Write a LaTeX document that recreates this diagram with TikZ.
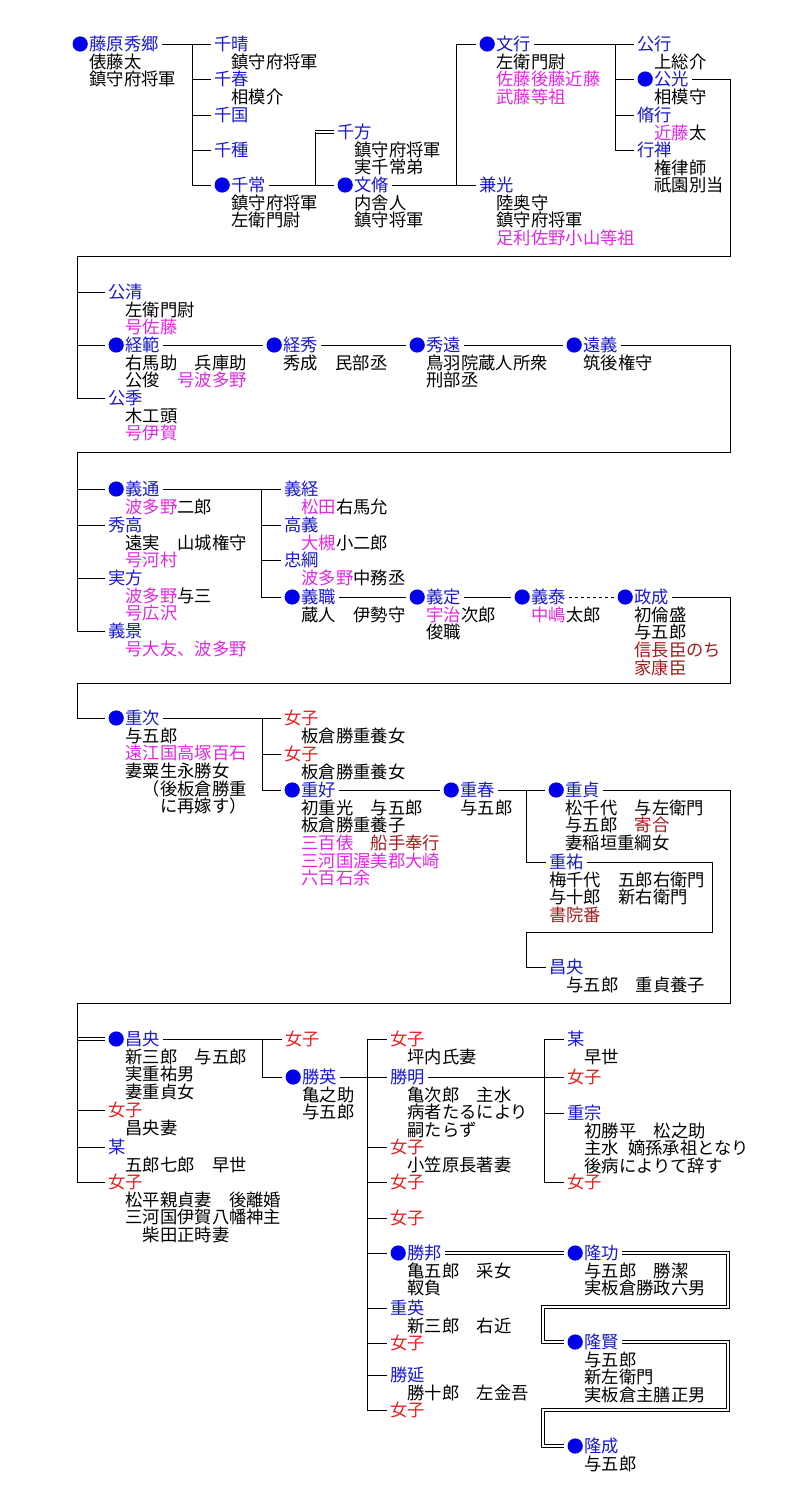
\documentclass[tikz,border=0pt]{standalone}
\usepackage{fontspec}
\setmainfont{Noto Sans CJK JP}
\usetikzlibrary{positioning}
\definecolor{nmblue}{RGB}{25,25,205}
\definecolor{dotblue}{RGB}{0,0,235}
\definecolor{mag}{RGB}{225,40,225}
\definecolor{fred}{RGB}{225,35,35}
\definecolor{dred}{RGB}{160,30,30}
\newcommand\mgt[1]{\textcolor{mag}{#1}}
\newcommand\drd[1]{\textcolor{dred}{#1}}
\gdef\Dfill{dotblue}

\tikzset{
  nm/.style={anchor=west, inner sep=3pt, text height=15pt, text depth=2pt, text=nmblue},
  fem/.style={nm, text=fred},
  ds/.style={inner sep=0pt, align=left, execute at begin node={\rule{0pt}{15pt}}},
  ln/.style={line width=0.8pt},
  dbl/.style={double, double distance=2.2pt, line width=0.8pt},
}

\begin{document}
\begin{tikzpicture}[x=1pt, y=-1pt, font=\fontsize{17.3}{17.7}\selectfont, node distance=-2.3pt and 20.3pt]
\fill[white] (0,0) rectangle (794,1500);

% Hidesato and the first generations
\node[nm] (hidesato) at (69,44) {　藤原秀郷};
\node[ds] (hidesato-d) [below right=of hidesato.south west] {俵藤太\\鎮守府将軍};
\node[nm] (chiharu) at (211,44) {千晴};
\node[ds] (chiharu-d) [below right=of chiharu.south west] {鎮守府将軍};
\node[nm] (chiharu2) at (211,79) {千春};
\node[ds] (chiharu2-d) [below right=of chiharu2.south west] {相模介};
\node[nm] (chikuni) at (211,115) {千国};
\node[nm] (chitane) at (211,150) {千種};
\node[nm] (chitsune) at (211,185) {　千常};
\node[ds] (chitsune-d) [below right=of chitsune.south west] {鎮守府将軍\\左衛門尉};
\node[nm] (chikata) at (334,132) {千方};
\node[ds] (chikata-d) [below right=of chikata.south west] {鎮守府将軍\\実千常弟};
\node[nm] (fumiyasu) at (334,185) {　文脩};
\node[ds] (fumiyasu-d) [below right=of fumiyasu.south west] {内舎人\\鎮守将軍};
\node[nm] (fumiyuki) at (476,44) {　文行};
\node[ds] (fumiyuki-d) [below right=of fumiyuki.south west] {左衛門尉\\\mgt{佐藤後藤近藤}\\\mgt{武藤等祖}};
\node[nm] (kanemitsu) at (476,185) {兼光};
\node[ds] (kanemitsu-d) [below right=of kanemitsu.south west] {陸奥守\\鎮守府将軍\\\mgt{足利佐野小山等祖}};
\node[nm] (kimiyuki) at (634,44) {公行};
\node[ds] (kimiyuki-d) [below right=of kimiyuki.south west] {上総介};
\node[nm] (kimimitsu) at (634,79) {　公光};
\node[ds] (kimimitsu-d) [below right=of kimimitsu.south west] {相模守};
\node[nm] (nobuyuki) at (634,115) {脩行};
\node[ds] (nobuyuki-d) [below right=of nobuyuki.south west] {\mgt{近藤}太};
\node[nm] (gyozen) at (634,150) {行禅};
\node[ds] (gyozen-d) [below right=of gyozen.south west] {権律師\\祇園別当};

% Kimimitsu's sons
\node[nm] (kimikiyo) at (105,292) {公清};
\node[ds] (kimikiyo-d) [below right=of kimikiyo.south west] {左衛門尉\\\mgt{号佐藤}};
\node[nm] (tsunenori) at (105,345) {　経範};
\node[ds] (tsunenori-d) [below right=of tsunenori.south west] {右馬助　兵庫助\\公俊　\mgt{号波多野}};
\node[nm] (kimisue) at (105,398) {公季};
\node[ds] (kimisue-d) [below right=of kimisue.south west] {木工頭\\\mgt{号伊賀}};
\node[nm] (tsunehide) at (263,345) {　経秀};
\node[ds] (tsunehide-d) [below right=of tsunehide.south west] {秀成　民部丞};
\node[nm] (hidetoo) at (406,345) {　秀遠};
\node[ds] (hidetoo-d) [below right=of hidetoo.south west] {鳥羽院蔵人所衆\\刑部丞};
\node[nm] (tooyoshi) at (563,345) {　遠義};
\node[ds] (tooyoshi-d) [below right=of tooyoshi.south west] {筑後権守};

% Hatano line
\node[nm] (yoshimichi) at (105,489) {　義通};
\node[ds] (yoshimichi-d) [below right=of yoshimichi.south west] {\mgt{波多野}二郎};
\node[nm] (hidetaka) at (105,525) {秀高};
\node[ds] (hidetaka-d) [below right=of hidetaka.south west] {遠実　山城権守\\\mgt{号河村}};
\node[nm] (sanekata) at (105,578) {実方};
\node[ds] (sanekata-d) [below right=of sanekata.south west] {\mgt{波多野}与三\\\mgt{号広沢}};
\node[nm] (yoshikage) at (105,631) {義景};
\node[ds] (yoshikage-d) [below right=of yoshikage.south west] {\mgt{号大友、波多野}};
\node[nm] (yoshitsune) at (281,489) {義経};
\node[ds] (yoshitsune-d) [below right=of yoshitsune.south west] {\mgt{松田}右馬允};
\node[nm] (takayoshi) at (281,525) {高義};
\node[ds] (takayoshi-d) [below right=of takayoshi.south west] {\mgt{大槻}小二郎};
\node[nm] (tadatsuna) at (281,560) {忠綱};
\node[ds] (tadatsuna-d) [below right=of tadatsuna.south west] {\mgt{波多野}中務丞};
\node[nm] (yoshimoto) at (281,597) {　義職};
\node[ds] (yoshimoto-d) [below right=of yoshimoto.south west] {蔵人　伊勢守};
\node[nm] (yoshisada) at (406,597) {　義定};
\node[ds] (yoshisada-d) [below right=of yoshisada.south west] {\mgt{宇治}次郎\\俊職};
\node[nm] (yoshiyasu) at (511,597) {　義泰};
\node[ds] (yoshiyasu-d) [below right=of yoshiyasu.south west] {\mgt{中嶋}太郎};
\node[nm] (masanari) at (614,597) {　政成};
\node[ds] (masanari-d) [below right=of masanari.south west] {初倫盛\\与五郎\\\drd{信長臣のち}\\\drd{家康臣}};

% Shigetsugu and his children
\node[nm] (shigetsugu) at (105,718) {　重次};
\node[ds] (shigetsugu-d) [below right=of shigetsugu.south west] {与五郎\\\mgt{遠江国高塚百石}\\妻粟生永勝女\\　（後板倉勝重\\　　に再嫁す）};
\node[fem] (nyoshi1) at (281,718) {女子};
\node[ds] (nyoshi1-d) [below right=of nyoshi1.south west] {板倉勝重養女};
\node[fem] (nyoshi2) at (281,754) {女子};
\node[ds] (nyoshi2-d) [below right=of nyoshi2.south west] {板倉勝重養女};
\node[nm] (shigeyoshi) at (281,790) {　重好};
\node[ds] (shigeyoshi-d) [below right=of shigeyoshi.south west] {初重光　与五郎\\板倉勝重養子\\\mgt{三百俵}　\drd{船手奉行}\\\mgt{三河国渥美郡大崎}\\\mgt{六百石余}};
\node[nm] (shigeharu) at (440,790) {　重春};
\node[ds] (shigeharu-d) [below right=of shigeharu.south west] {与五郎};
\node[nm] (shigesada) at (545,790) {　重貞};
\node[ds] (shigesada-d) [below right=of shigesada.south west] {松千代　与左衛門\\与五郎　\drd{寄合}\\妻稲垣重綱女};
\node[nm] (shigesuke) at (546,862) {重祐};
\node[ds] (shigesuke-d) [below right=-2.3pt and 3pt of shigesuke.south west] {梅千代　五郎右衛門\\与十郎　新右衛門\\\drd{書院番}};
\node[nm] (masanaka1) at (546,967) {昌央};
\node[ds] (masanaka1-d) [below right=of masanaka1.south west] {与五郎　重貞養子};

% Masanaka and later
\node[nm] (masanaka) at (105,1039) {　昌央};
\node[ds] (masanaka-d) [below right=of masanaka.south west] {新三郎　与五郎\\実重祐男\\妻重貞女};
\node[fem] (nyoshi3) at (105,1110) {女子};
\node[ds] (nyoshi3-d) [below right=of nyoshi3.south west] {昌央妻};
\node[nm] (bo1) at (105,1147) {某};
\node[ds] (bo1-d) [below right=of bo1.south west] {五郎七郎　早世};
\node[fem] (nyoshi4) at (105,1182) {女子};
\node[ds] (nyoshi4-d) [below right=of nyoshi4.south west] {松平親貞妻　後離婚\\三河国伊賀八幡神主\\　柴田正時妻};
\node[fem] (nyoshi5) at (282,1039) {女子};
\node[nm] (katsuhide) at (282,1077) {　勝英};
\node[ds] (katsuhide-d) [below right=of katsuhide.south west] {亀之助\\与五郎};
\node[fem] (nyoshi6) at (387,1039) {女子};
\node[ds] (nyoshi6-d) [below right=of nyoshi6.south west] {坪内氏妻};
\node[nm] (katsuaki) at (387,1077) {勝明};
\node[ds] (katsuaki-d) [below right=of katsuaki.south west] {亀次郎　主水\\病者たるにより\\嗣たらず};
\node[fem] (nyoshi7) at (387,1147) {女子};
\node[ds] (nyoshi7-d) [below right=of nyoshi7.south west] {小笠原長著妻};
\node[fem] (nyoshi8) at (387,1182) {女子};
\node[fem] (nyoshi9) at (387,1218) {女子};
\node[nm] (katsukuni) at (387,1253) {　勝邦};
\node[ds] (katsukuni-d) [below right=of katsukuni.south west] {亀五郎　采女\\靫負};
\node[nm] (shigehide) at (387,1308) {重英};
\node[ds] (shigehide-d) [below right=of shigehide.south west] {新三郎　右近};
\node[fem] (nyoshi10) at (387,1343) {女子};
\node[nm] (katsunobu) at (387,1375) {勝延};
\node[ds] (katsunobu-d) [below right=of katsunobu.south west] {勝十郎　左金吾};
\node[fem] (nyoshi11) at (387,1410) {女子};
\node[nm] (bo2) at (564,1039) {某};
\node[ds] (bo2-d) [below right=of bo2.south west] {早世};
\node[fem] (nyoshi12) at (564,1077) {女子};
\node[nm] (shigemune) at (564,1113) {重宗};
\node[ds] (shigemune-d) [below right=of shigemune.south west] {初勝平　松之助\\主水\hspace{9pt}嫡孫承祖となり\\後病によりて辞す};
\node[fem] (nyoshi13) at (564,1182) {女子};
\node[nm] (takakoto) at (564,1253) {　隆功};
\node[ds] (takakoto-d) [below right=of takakoto.south west] {与五郎　勝潔\\実板倉勝政六男};
\node[nm] (takakata) at (564,1342) {　隆賢};
\node[ds] (takakata-d) [below right=of takakata.south west] {与五郎\\新左衛門\\実板倉主膳正男};
\node[nm] (takanari) at (564,1446) {　隆成};
\node[ds] (takanari-d) [below right=of takanari.south west] {与五郎};

% connectors
\coordinate (j1) at (192,44);
\draw[ln] (hidesato.east) -- (j1);
\foreach \c in {chiharu,chiharu2,chikuni,chitane,chitsune} \draw[ln] (j1) |- (\c.west);
\coordinate (j2) at (315,185);
\draw[dbl] (chikata.west -| j2) -- (chikata.west);
\draw[ln] (j2) -- (chikata.west -| j2);
\draw[ln] (chitsune.east) -- (fumiyasu.west);
\coordinate (j3) at (456,185);
\draw[ln] (fumiyasu.east) -- (j3) |- (fumiyuki.west);
\draw[ln] (j3) -- (kanemitsu.west);
\coordinate (j4) at (615,44);
\draw[ln] (fumiyuki.east) -- (j4);
\foreach \c in {kimiyuki,kimimitsu,nobuyuki,gyozen} \draw[ln] (j4) |- (\c.west);
\coordinate (w1) at (730,256);
\coordinate (j5) at (77,256);
\draw[ln] (kimimitsu.east) -| (w1) -- (j5);
\foreach \c in {kimikiyo,tsunenori,kimisue} \draw[ln] (j5) |- (\c.west);

\draw[ln] (tsunenori.east) -- (tsunehide.west);
\draw[ln] (tsunehide.east) -- (hidetoo.west);
\draw[ln] (hidetoo.east) -- (tooyoshi.west);
\coordinate (w2) at (730,452);
\coordinate (j6) at (77,452);
\draw[ln] (tooyoshi.east) -| (w2) -- (j6);
\foreach \c in {yoshimichi,hidetaka,sanekata,yoshikage} \draw[ln] (j6) |- (\c.west);

\coordinate (j7) at (261,489);
\draw[ln] (yoshimichi.east) -- (j7);
\foreach \c in {yoshitsune,takayoshi,tadatsuna,yoshimoto} \draw[ln] (j7) |- (\c.west);
\draw[ln] (yoshimoto.east) -- (yoshisada.west);
\draw[ln] (yoshisada.east) -- (yoshiyasu.west);
\draw[ln, dash pattern=on 3pt off 3pt] (yoshiyasu.east) -- (masanari.west);
\coordinate (w3) at (730,683);
\coordinate (j8) at (77,683);
\draw[ln] (masanari.east) -| (w3) -- (j8) |- (shigetsugu.west);

\coordinate (j9) at (262,718);
\draw[ln] (shigetsugu.east) -- (j9);
\foreach \c in {nyoshi1,nyoshi2,shigeyoshi} \draw[ln] (j9) |- (\c.west);
\draw[ln] (shigeyoshi.east) -- (shigeharu.west);
\coordinate (j10) at (526,790);
\draw[ln] (shigeharu.east) -- (j10) |- (shigesuke.west);
\draw[ln] (j10) -- (shigesada.west);
\coordinate (w4) at (712,932);
\coordinate (j11) at (526,932);
\draw[ln] (shigesuke.east) -| (w4) -- (j11) |- (masanaka1.west);
\coordinate (w5) at (730,1003);
\coordinate (j12) at (77,1003);
\draw[ln] (shigesada.east) -| (w5) -- (j12);
\draw[dbl] (masanaka.west -| j12) -- (masanaka.west);
\foreach \c in {nyoshi3,bo1,nyoshi4} \draw[ln] (j12) |- (\c.west);

\coordinate (j13) at (262,1039);
\draw[ln] (masanaka.east) -- (j13) |- (katsuhide.west);
\draw[ln] (j13) -- (nyoshi5.west);
\coordinate (j14) at (367,1077);
\draw[ln] (katsuhide.east) -- (j14);
\foreach \c in {nyoshi6,katsuaki,nyoshi7,nyoshi8,nyoshi9,katsukuni,shigehide,nyoshi10,katsunobu,nyoshi11} \draw[ln] (j14) |- (\c.west);
\coordinate (j15) at (544,1077);
\draw[ln] (katsuaki.east) -- (j15);
\foreach \c in {bo2,nyoshi12,shigemune,nyoshi13} \draw[ln] (j15) |- (\c.west);
\draw[dbl] (katsukuni.east) -- (takakoto.west);
\coordinate (w6) at (728,1307);
\coordinate (j16) at (543,1307);
\draw[dbl] (takakoto.east) -| (w6) -- (j16) |- (takakata.west);
\coordinate (w7) at (728,1410);
\coordinate (j17) at (543,1410);
\draw[dbl] (takakata.east) -| (w7) -- (j17) |- (takanari.west);

% blue marks for the main line
\foreach \n in {hidesato,chitsune,fumiyasu,fumiyuki,kimimitsu,tsunenori,tsunehide,hidetoo,tooyoshi,yoshimichi,yoshimoto,yoshisada,yoshiyasu,masanari,shigetsugu,shigeyoshi,shigeharu,shigesada,masanaka,katsuhide,katsukuni,takakoto,takakata,takanari}
  \fill[\Dfill] ([xshift=11.2pt]\n.west) circle (7.6pt);
\end{tikzpicture}
\end{document}
